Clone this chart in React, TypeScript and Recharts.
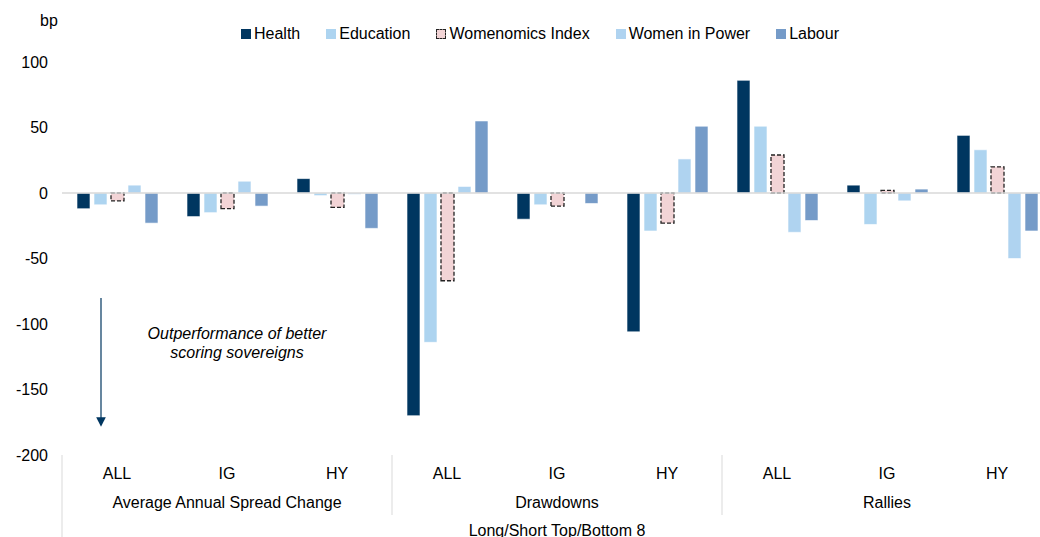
import { BarChart, Bar, XAxis, YAxis, ReferenceLine } from "recharts";

const categories = ["ALL", "IG", "HY", "ALL", "IG", "HY", "ALL", "IG", "HY"];
const groups = ["Average Annual Spread Change", "Drawdowns", "Rallies"];
const outerLabel = "Long/Short Top/Bottom 8";

const health = [-12, -18, 11, -170, -20, -106, 86, 6, 44];
const education = [-9, -15, -2, -114, -9, -29, 51, -24, 33];
const womenomics = [-6, -12, -11, -67, -10, -23, 29, 2, 20];
const womenInPower = [6, 9, -1, 5, 0, 26, -30, -6, -50];
const labour = [-23, -10, -27, 55, -8, 51, -21, 3, -29];

const yTicks = [100, 50, 0, -50, -100, -150, -200];

const SERIES = [
  { key: "health", name: "Health", fill: "#003660", dashed: false },
  { key: "education", name: "Education", fill: "#add4f0", dashed: false },
  { key: "womenomics", name: "Womenomics Index", fill: "#f2d4d6", dashed: true },
  { key: "womenInPower", name: "Women in Power", fill: "#afd3f0", dashed: false },
  { key: "labour", name: "Labour", fill: "#759bc8", dashed: false },
];

const data = categories.map((c, i) => ({
  sub: c,
  health: health[i],
  education: education[i],
  womenomics: womenomics[i],
  womenInPower: womenInPower[i],
  labour: labour[i],
}));

const FONT = "Arial, 'Liberation Sans', sans-serif";
const LEFT = 62;
const PLOT_W = 990;
const BAND = PLOT_W / categories.length;

function CategoryTick(props: any) {
  const { x, y, payload } = props;
  const i = payload.index;
  const sep = i % 3 === 0;
  return (
    <g>
      {sep && (
        <line
          x1={x - BAND / 2}
          x2={x - BAND / 2}
          y1={y}
          y2={i === 0 ? y + 90 : y + 60}
          stroke="#d9d9d9"
        />
      )}
      <text x={x} y={y + 24} textAnchor="middle" fontSize={16} fill="#000" fontFamily={FONT}>
        {payload.value}
      </text>
      {i % 3 === 1 && (
        <text x={x} y={y + 53} textAnchor="middle" fontSize={16} fill="#000" fontFamily={FONT}>
          {groups[Math.floor(i / 3)]}
        </text>
      )}
      {i === 4 && (
        <text x={x} y={y + 81} textAnchor="middle" fontSize={16} fill="#000" fontFamily={FONT}>
          {outerLabel}
        </text>
      )}
    </g>
  );
}

function ChartLegend() {
  return (
    <div
      style={{
        position: "absolute",
        left: 241,
        top: 25,
        display: "flex",
        alignItems: "center",
        fontFamily: FONT,
        fontSize: 16,
        color: "#000",
      }}
    >
      {SERIES.map((s) => (
        <div key={s.key} style={{ display: "flex", alignItems: "center", marginRight: 26 }}>
          <span
            style={{
              display: "inline-block",
              width: s.dashed ? 8 : 10,
              height: s.dashed ? 8 : 10,
              background: s.fill,
              border: s.dashed ? "1px dashed #222" : "none",
              marginRight: 3,
            }}
          />
          <span>{s.name}</span>
        </div>
      ))}
    </div>
  );
}

export default function App() {
  return (
    <div
      style={{
        position: "absolute",
        left: 0,
        top: 0,
        width: 1040,
        height: 537,
        overflow: "hidden",
        background: "#fff",
        fontFamily: FONT,
      }}
    >
      <div style={{ position: "absolute", left: 40, top: 12, fontSize: 16 }}>bp</div>
      <ChartLegend />
      <BarChart
        width={LEFT + PLOT_W}
        height={537}
        data={data}
        margin={{ top: 62, right: 0, bottom: 0, left: 0 }}
        barSize={13}
        barGap={4}
      >
        <YAxis
          width={LEFT}
          domain={[-200, 100]}
          ticks={yTicks}
          axisLine={false}
          tickLine={false}
          tickSize={0}
          tickMargin={14}
          tick={{ fontSize: 16, fill: "#000", fontFamily: FONT }}
          interval={0}
        />
        <XAxis
          dataKey="sub"
          height={82}
          axisLine={false}
          tickLine={false}
          tickSize={0}
          tickMargin={0}
          interval={0}
          tick={<CategoryTick />}
        />
        <ReferenceLine y={0} stroke="#d9d9d9" strokeWidth={1.5} />
        {SERIES.map((s) => (
          <Bar
            key={s.key}
            dataKey={s.key}
            name={s.name}
            fill={s.fill}
            stroke={s.dashed ? "#222" : "#ffffff"}
            strokeWidth={s.dashed ? 1.3 : 0.6}
            strokeDasharray={s.dashed ? "4 2" : undefined}
            isAnimationActive={false}
          />
        ))}
      </BarChart>
      <svg
        width={1040}
        height={537}
        style={{ position: "absolute", left: 0, top: 0, pointerEvents: "none" }}
      >
        <defs>
          <marker id="arrowHead" markerWidth="8" markerHeight="8" refX="4" refY="4" orient="auto">
            <path d="M0,0 L8,4 L0,8 z" fill="#003660" />
          </marker>
        </defs>
        <line x1={101} y1={298} x2={101} y2={422} stroke="#003660" strokeWidth={1.2} markerEnd="url(#arrowHead)" />
        <text x={237} y={339} textAnchor="middle" fontSize={16} fontStyle="italic" fontFamily={FONT} fill="#000">
          Outperformance of better
        </text>
        <text x={237} y={358} textAnchor="middle" fontSize={16} fontStyle="italic" fontFamily={FONT} fill="#000">
          scoring sovereigns
        </text>
      </svg>
    </div>
  );
}
